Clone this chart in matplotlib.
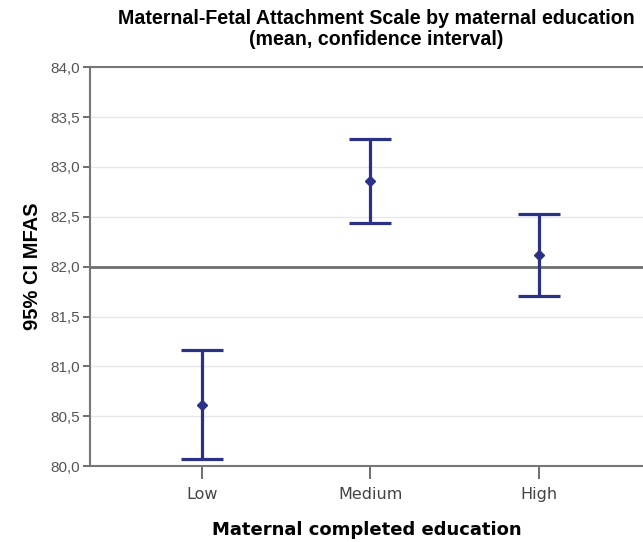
import numpy as np
import matplotlib
matplotlib.use('Agg')

import matplotlib.pyplot as plt

plt.rcParams['font.family'] = ['Liberation Sans', 'DejaVu Sans']

groups = ['Low', 'Medium', 'High']
means = [80.61, 82.86, 82.12]
lower = [80.07, 82.44, 81.71]
upper = [81.16, 83.285, 82.53]
yticks = [80.0, 80.5, 81.0, 81.5, 82.0, 82.5, 83.0, 83.5, 84.0]
ref_line = 82.0

fig = plt.figure(figsize=(6.43, 5.42), dpi=100)
ax = fig.add_axes([0.14, 0.14, 0.86, 0.736])

x = np.arange(len(groups))
m = np.array(means)
err = [m - np.array(lower), np.array(upper) - m]

for t in yticks:
    ax.axhline(t, color='#e8e8e8', lw=1, zorder=0)
ax.axhline(ref_line, color='#6e6e6e', lw=2, zorder=1)

ax.errorbar(x, m, yerr=err, fmt='D', color='#2b3186', ms=5,
            elinewidth=2.3, capsize=15, capthick=2.3, zorder=3)

ax.set_xlim(-0.665, 2.62)
ax.set_ylim(80.0, 84.0)
ax.set_xticks(x)
ax.set_xticklabels(groups, family='DejaVu Sans')
ax.set_yticks(yticks)
ax.set_yticklabels([('%.1f' % t).replace('.', ',') for t in yticks])
ax.tick_params(axis='y', colors='#555555', labelsize=11, width=1.2, length=5, pad=2)
ax.tick_params(axis='x', colors='#555555', labelcolor='#444444', labelsize=11.5,
               width=1.2, length=9, pad=6)

for s in ['left', 'bottom', 'top']:
    ax.spines[s].set_color('#777777')
    ax.spines[s].set_linewidth(1.5)
ax.spines['right'].set_visible(False)

ax.set_xlabel('Maternal completed education', fontsize=13, fontweight='bold',
              family='DejaVu Sans', labelpad=14)
ax.set_ylabel('95% CI MFAS', fontsize=14.5, fontweight='bold', labelpad=6)
ax.set_title('Maternal-Fetal Attachment Scale by maternal education\n(mean, confidence interval)',
             fontsize=14.1, fontweight='bold', pad=16, linespacing=1.15, x=0.517)

fig.savefig('out.png', dpi=100)
